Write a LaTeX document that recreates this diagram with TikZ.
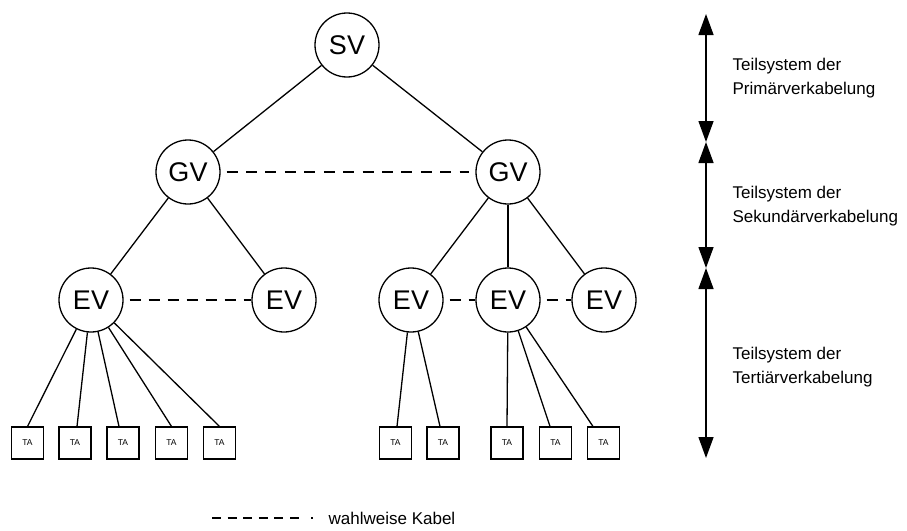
\documentclass[tikz,border=0pt]{standalone}
\usepackage{fontspec}
\setmainfont{Liberation Sans}
\usetikzlibrary{arrows.meta}
\begin{document}
\begin{tikzpicture}[x=1pt,y=-1pt,
  line width=1.3pt,
  dist/.style={circle,draw,fill=white,minimum size=64pt,inner sep=0pt,
    font=\fontsize{27}{32}\selectfont},
  tabox/.style={rectangle,draw,minimum size=32pt,inner sep=0pt,
    line width=1.1pt,font=\fontsize{8.5}{10}\selectfont},
  optional/.style={dash pattern=on 11pt off 8pt,shorten <=6pt},
  levelarrow/.style={{Triangle[width=15pt,length=21pt]}-{Triangle[width=15pt,length=21pt]},line width=1.4pt},
  sidelabel/.style={anchor=west,align=left,inner sep=0pt,
    font=\fontsize{17}{24.5}\selectfont}
]
\useasboundingbox (0,0) rectangle (907,530);

% distributors
\node[dist] (sv) at (347,45) {SV};
\node[dist] (gv1) at (188,172) {GV};
\node[dist] (gv2) at (508,172) {GV};
\node[dist] (ev1) at (91,300) {EV};
\node[dist] (ev2) at (284,300) {EV};
\node[dist] (ev3) at (411,300) {EV};
\node[dist] (ev4) at (508,300) {EV};
\node[dist] (ev5) at (604,300) {EV};

% outlets
\foreach \n/\x in {1/27.5,2/75,3/123,4/171.5,5/219.5,6/395.5,7/443,8/507,9/555.5,10/603.5}
  \node[tabox] (ta\n) at (\x,443) {TA};

% tree cables
\draw (sv) -- (gv1);
\draw (sv) -- (gv2);
\draw (gv1) -- (ev1);
\draw (gv1) -- (ev2);
\draw (gv2) -- (ev3);
\draw (gv2) -- (ev4);
\draw (gv2) -- (ev5);

\draw (ev1) -- (ta1.north);
\draw (ev1) -- ([xshift=2pt]ta2.north);
\draw (ev1) -- ([xshift=-4pt]ta3.north);
\draw (ev1) -- (ta4.north);
\draw (ev1) -- (ta5.north);
\draw (ev3) -- ([xshift=1.5pt]ta6.north);
\draw (ev3) -- ([xshift=-3pt]ta7.north);
\draw (ev4) -- (ta8.north);
\draw (ev4) -- ([xshift=-5.5pt]ta9.north);
\draw (ev4) -- ([xshift=-10.5pt]ta10.north);

% optional cables
\draw[dash pattern=on 11pt off 8.42pt,shorten <=6pt,shorten >=6pt] (gv1) -- (gv2);
\draw[optional] (ev1) -- (ev2);
\draw[optional] (ev3) -- (ev4);
\draw[optional] (ev4) -- (ev5);

% level arrows
\coordinate (a0) at (706,14);
\coordinate (a1) at (706,142);
\coordinate (a2) at (706,268);
\coordinate (a3) at (706,458);
\draw[levelarrow] (a0) -- (a1);
\draw[levelarrow] (a1) -- (a2);
\draw[levelarrow] (a2) -- (a3);

\node[sidelabel] (l1) at (732,78) {Teilsystem der\\Primärverkabelung};
\node[sidelabel] (l2) at (732,206) {Teilsystem der\\Sekundärverkabelung};
\node[sidelabel] (l3) at (732,367) {Teilsystem der\\Tertiärverkabelung};

% legend
\coordinate (lg0) at (212,518);
\coordinate (lg1) at (312.5,518);
\draw[line width=1.1pt,dash pattern=on 9pt off 6.6pt on 9pt off 6.6pt on 9pt off 6.6pt on 9pt off 6.6pt on 9pt off 6.6pt on 9pt off 12pt on 1.5pt off 10pt] (lg0) -- (lg1);
\node[anchor=west,inner sep=0pt,font=\fontsize{17}{20}\selectfont] (lgt) at (328,518) {wahlweise Kabel};
\end{tikzpicture}
\end{document}
